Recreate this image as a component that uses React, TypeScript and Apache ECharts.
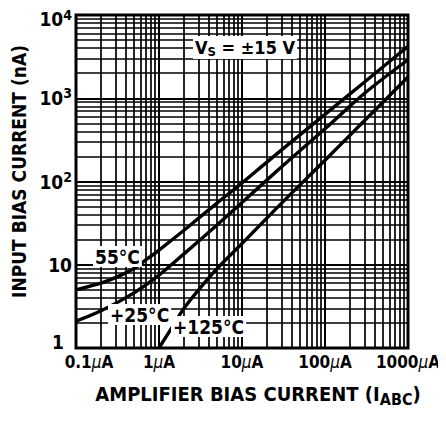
import React, { useEffect, useRef } from 'react';
import * as echarts from 'echarts';

// Amplifier bias current I_ABC (µA) and input bias current (nA)
const iabcM55 = [0.1, 0.2, 0.35, 0.5, 0.7, 1, 2, 5, 10, 30, 100, 300, 1000];
const ibM55 = [5, 6, 7.5, 9, 11.5, 15, 26, 55, 96, 240, 640, 1570, 4200];
const iabc25 = [0.1, 0.2, 0.5, 1, 2, 5, 10, 30, 100, 300, 1000];
const ib25 = [2.1, 2.8, 4.6, 7.5, 13.5, 30, 56, 150, 430, 1150, 2900];
const iabc125 = [1, 1.5, 2, 3, 5, 10, 30, 100, 300, 1000];
const ib125 = [1, 1.9, 3, 5, 9, 18, 55, 180, 540, 1800];

const xTickLabels = ['0.1', '1', '10', '100', '1000'];
const yTickLabels = ['{one|1}', '10', '10{sup|2}', '10{sup|3}', '{top|10}{sup2|4}'];
const xDecades = [0.1, 1, 10, 100];
const yDecades = [1, 10, 100, 1000];
const minorMultipliers = [2, 3, 4, 5, 6, 7, 8, 9];

const FONT = "'Liberation Sans Narrow', 'DejaVu Sans Condensed', 'Roboto Condensed', 'Liberation Sans', sans-serif";

const pairs = (xs: number[], ys: number[]) => xs.map((x, i) => [x, ys[i]]);

export default function App() {
  const ref = useRef<HTMLDivElement>(null);
  useEffect(() => {
    if (!ref.current) return;
    const chart = echarts.init(ref.current, null, { renderer: 'svg' });
    const minorX: number[] = [];
    xDecades.forEach((d) => minorMultipliers.forEach((m) => minorX.push(d * m)));
    const minorY: number[] = [];
    yDecades.forEach((d) => minorMultipliers.forEach((m) => minorY.push(d * m)));

    const curve = (name: string, data: number[][]) => ({
      name,
      type: 'line',
      data,
      smooth: 0.3,
      showSymbol: false,
      symbol: 'none',
      z: 5,
      lineStyle: { color: '#000', width: 3.4 },
      silent: true,
    });

    const labelBox = { fill: '#000', backgroundColor: '#fff', padding: [1, 2, 1, 2] };

    chart.setOption({
      animation: false,
      backgroundColor: '#fff',
      textStyle: { fontFamily: FONT },
      grid: {
        left: 68, top: 7, right: 38, bottom: 73,
        containLabel: false, outerBoundsMode: 'none',
        show: true, borderColor: '#000', borderWidth: 3, backgroundColor: 'transparent', z: 6,
      },
      xAxis: {
        type: 'log', min: 0.1, max: 1000, logBase: 10,
        name: 'AMPLIFIER BIAS CURRENT (I{sub|ABC})',
        nameLocation: 'middle', nameGap: 33,
        nameTextStyle: {
          fontFamily: FONT, fontWeight: 'bold', fontSize: 20, color: '#000',
          padding: [0, 0, 0, 32],
          rich: { sub: { fontFamily: FONT, fontWeight: 'bold', fontSize: 16, verticalAlign: 'bottom', padding: [10, 0, 0, 0], color: '#000' } },
        },
        axisLine: { show: false },
        axisTick: { show: false },
        splitLine: { show: true, lineStyle: { color: '#000', width: 2 } },
        axisLabel: {
          margin: 5,
          color: '#000', fontFamily: FONT, fontWeight: 'bold', fontSize: 17,
          formatter: (v: number) => {
            const i = Math.round(Math.log10(v)) + 1;
            const t = xTickLabels[i];
            return i === 0 ? `{pad|}${t}{mu|μ}A` : `${t}{mu|μ}A`;
          },
          rich: {
            mu: { fontFamily: FONT, fontStyle: 'italic', fontWeight: 'normal', fontSize: 17, color: '#000' },
            pad: { width: 26 },
          },
        },
      },
      yAxis: {
        type: 'log', min: 1, max: 10000, logBase: 10,
        name: 'INPUT BIAS CURRENT (nA)',
        nameLocation: 'middle', nameGap: 46,
        nameTextStyle: { fontFamily: FONT, fontWeight: 'bold', fontSize: 19, color: '#000', padding: [0, 0, 0, 20] },
        axisLine: { show: false },
        axisTick: { show: false },
        splitLine: { show: true, lineStyle: { color: '#000', width: 2 } },
        axisLabel: {
          margin: 4,
          color: '#000', fontFamily: FONT, fontWeight: 'bold', fontSize: 19,
          formatter: (v: number) => yTickLabels[Math.round(Math.log10(v))],
          rich: {
            sup: { fontFamily: FONT, fontWeight: 'bold', fontSize: 14, verticalAlign: 'top', padding: [0, 0, 10, 0], color: '#000' },
            sup2: { fontFamily: FONT, fontWeight: 'bold', fontSize: 14, verticalAlign: 'top', padding: [6, 0, 0, 0], color: '#000' },
            top: { fontFamily: FONT, fontWeight: 'bold', fontSize: 19, padding: [8, 0, 0, 0], color: '#000' },
            one: { fontFamily: FONT, fontWeight: 'bold', fontSize: 19, padding: [0, 8, 12, 0], color: '#000' },
          },
        },
      },
      series: [
        {
          type: 'line',
          data: [[1, 1]],
          symbol: 'none',
          silent: true,
          z: 1,
          lineStyle: { width: 0 },
          markLine: {
            silent: true,
            symbol: ['none', 'none'],
            label: { show: false },
            lineStyle: { color: '#000', width: 1.7, type: 'solid' },
            emphasis: { disabled: true },
            data: [
              ...minorX.map((v) => ({ xAxis: v })),
              ...minorY.map((v) => ({ yAxis: v })),
            ],
          },
        },
        curve('-55°C', pairs(iabcM55, ibM55)),
        curve('+25°C', pairs(iabc25, ib25)),
        curve('+125°C', pairs(iabc125, ib125)),
      ],
      graphic: [
        {
          type: 'text', left: 185, top: 28, z: 100,
          style: {
            ...labelBox,
            text: 'V{sub|S} = ±15 V',
            font: `bold 18px ${FONT}`,
            rich: { sub: { font: `bold 13px ${FONT}`, verticalAlign: 'bottom', padding: [8, 0, 0, 0], fill: '#000' } },
          },
        },
        {
          type: 'text', left: 85, top: 238, z: 100,
          style: { ...labelBox, text: '55°C', font: `bold 19px ${FONT}` },
        },
        {
          type: 'text', left: 100, top: 296, z: 100,
          style: { ...labelBox, text: '+25°C', font: `bold 19px ${FONT}` },
        },
        {
          type: 'text', left: 163, top: 308, z: 100,
          style: { ...labelBox, text: '+125°C', font: `bold 19px ${FONT}` },
        },
      ],
    });
    return () => chart.dispose();
  }, []);
  return <div ref={ref} style={{ width: 438, height: 413 }} />;
}
